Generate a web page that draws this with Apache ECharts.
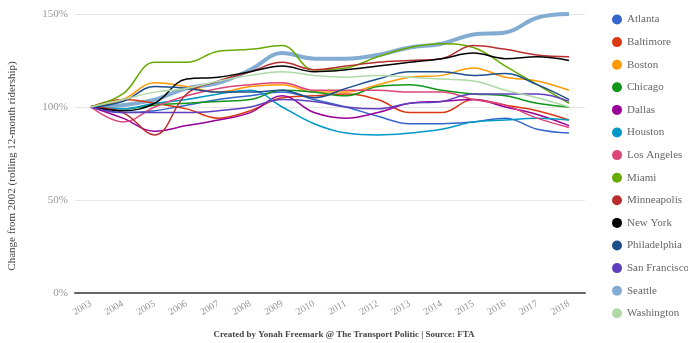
<!DOCTYPE html>
<html><head><meta charset="utf-8">
<script src="https://cdn.jsdelivr.net/npm/echarts@6/dist/echarts.min.js"></script>
<style>html,body{margin:0;padding:0;background:#fff}#c{width:688px;height:343px}</style>
</head><body><div id="c"></div>
<script>
const years = ['2003','2004','2005','2006','2007','2008','2009','2010','2011','2012','2013','2014','2015','2016','2017','2018'];
const cities = ['Atlanta','Baltimore','Boston','Chicago','Dallas','Houston','Los Angeles','Miami','Minneapolis','New York','Philadelphia','San Francisco','Seattle','Washington'];
const colors = ['#3366cc','#dc3912','#ff9900','#109618','#990099','#0099c6','#dd4477','#66aa00','#b82e2e','#000000','#1c4f8c','#5e3fbe','#82acd2','#b0d9a8'];
const atlanta      = [100, 97, 98,101,104,106,108,104,100, 95, 91, 91, 92, 94, 88, 86];
const baltimore    = [100,104,102, 99, 94, 98,105,106,107,104, 97, 97,104,101, 98, 93];
const boston       = [100,104,113,111,108,111,112,108,108,112,116,117,121,116,114,109];
const chicago      = [100, 99,101,102,103,104,109,108,106,111,112,109,107,106,102,100];
const dallas       = [100, 94, 87, 90, 93, 97,106, 97, 94, 97,102,103,104,100, 96, 90];
const houston      = [100, 99,102,104,107,109,100, 91, 86, 85, 86, 88, 92, 93, 94, 93];
const losAngeles   = [100, 92,100,106,110,112,113,109,109,109,108,108,104,101, 94, 89];
const miami        = [100,107,124,124,130,131,133,120,121,127,132,134,132,122,112,102];
const minneapolis  = [100, 97, 85,107,114,119,124,120,122,124,125,126,133,131,128,127];
const newYork      = [100, 98,102,115,116,119,122,119,120,122,124,126,129,126,127,125];
const philadelphia = [100,103,111,110,108,108,109,105,110,115,119,119,117,118,112,104];
const sanFrancisco = [100, 97, 97, 97, 98,100,104,103,100, 99,102,103,107,107,107,103];
const seattle      = [100,101,104,110,113,120,129,126,126,128,132,134,139,140,148,150];
const washington   = [100,104,108,110,114,117,119,117,116,117,116,115,114,109,105,100];
const values = [atlanta,baltimore,boston,chicago,dallas,houston,losAngeles,miami,minneapolis,newYork,philadelphia,sanFrancisco,seattle,washington];
const yTicks = [0,50,100,150];

const font = '"Liberation Serif", "DejaVu Serif", serif';
const chart = echarts.init(document.getElementById('c'));
chart.setOption({
  animation:false,
  color: colors,
  textStyle:{fontFamily:font},
  grid:{left:75,right:103,top:14,bottom:50},
  legend:{orient:'vertical',left:607,top:9,itemWidth:10,itemHeight:10,itemGap:11.6,icon:'circle',
    textStyle:{fontFamily:font,fontSize:11,color:'#666'},data:cities},
  graphic:[
    {type:'text',left:'center',top:330,style:{text:'Created by Yonah Freemark @ The Transport Politic | Source: FTA',font:'bold 9px '+font,fill:'#444'}},
    {type:'text',x:12,y:166,rotation:Math.PI/2,style:{text:'Change from 2002 (rolling 12-month ridership)',font:'11px '+font,fill:'#444',align:'center',verticalAlign:'middle'}}
  ],
  xAxis:{type:'category',data:years,boundaryGap:true,
    axisLine:{show:true,lineStyle:{color:'#666',width:2}},axisTick:{show:false},
    axisLabel:{rotate:30,interval:0,fontSize:10,color:'#999',fontFamily:font,margin:10}},
  yAxis:{type:'value',min:yTicks[0],max:yTicks[yTicks.length-1],interval:50,
    axisLabel:{formatter:'{value}%',fontSize:11,color:'#999',fontFamily:font,margin:7},
    splitLine:{lineStyle:{color:'#e6e6e6'}},axisLine:{show:false},axisTick:{show:false}},
  series: cities.map((c,i)=>({name:c,type:'line',data:values[i],smooth:0.4,
    showSymbol:false,symbol:'circle',symbolSize:2,
    lineStyle:{width:c==='Seattle'?4:1.5,color:colors[i]},z:c==='Seattle'?1:2}))
});
</script></body></html>
